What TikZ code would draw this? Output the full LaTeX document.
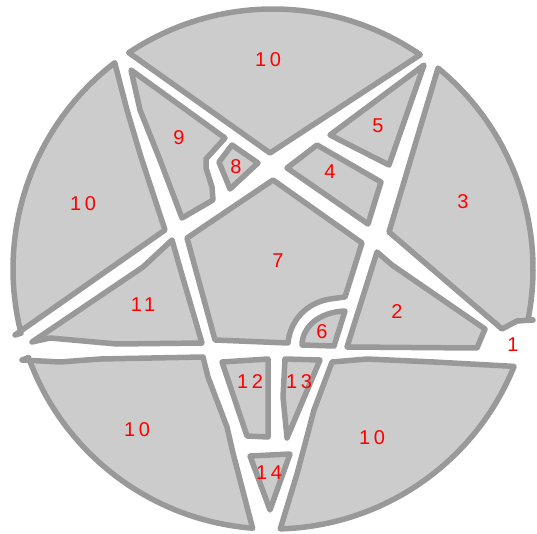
\documentclass[tikz,border=0pt]{standalone}
\usepackage{fontspec}
\newfontfamily\lblfont[LetterSpace=18]{Liberation Sans}
\definecolor{regfill}{HTML}{CCCCCC}
\definecolor{regline}{HTML}{999999}
\begin{document}
\begin{tikzpicture}[x=1pt,y=-1pt,
		region/.style={draw=regline, fill=regfill, line width=5.5pt, line join=round},
		lbl/.style={text=red, font=\lblfont\fontsize{20}{20}\selectfont, inner sep=0pt}]
			\useasboundingbox (0,0) rectangle (537,534);
			\coordinate (C) at (273,269);
			
			% outer pieces
			\draw[region] ([shift={(-123.7:260)}]C) arc[start angle=-123.7, end angle=-55.5, radius=260] -- (270,153) -- cycle;
			\draw[region] ([shift={(-50.6:260)}]C) arc[start angle=-50.6, end angle=11.1, radius=260] -- (533,320) -- (517,321) -- (502,329) -- (389,232) -- cycle;
			\draw[region] (15,335) -- ([shift={(165.7:260)}]C) arc[start angle=165.7, end angle=232.5, radius=260] -- (127,110) -- (141,157) -- (165,230) -- cycle;
			\draw[region] ([shift={(94.5:260)}]C) arc[start angle=94.5, end angle=160.1, radius=260] -- (22,360) -- (60,362) -- (100,359) -- (203,357) -- (208,377) -- (227,427) -- (233,453) -- cycle;
			\draw[region] ([shift={(22:260)}]C) arc[start angle=22, end angle=88.4, radius=260] -- (297,474) -- (314,410) -- (332,362) -- (367,359) -- (434,362) -- cycle;
			
			% inner pieces
			\draw[region] (330,135) -- (424,65) -- (389,165) -- cycle;
			\draw[region] (287,168) -- (317,145) -- (381,182) -- (368,224) -- cycle;
			\draw[region] (232,145) -- (258,163) -- (230,189) -- (219,162) -- cycle;
			\draw[region] (131,70) -- (225,138) -- (206,159) -- (206,168) -- (212,187) -- (213,200) -- (182,218) -- (160,160) -- (140,110) -- cycle;
			\draw[region] (32,342) -- (143,267) -- (172,240) -- (180,268) -- (202,343) -- (117,344) -- (50,338) -- cycle;
			\draw[region] (377,252) -- (392,265) -- (485,329) -- (477,348) -- (347,347) -- cycle;
			\draw[region] (273,180) -- (362,243) -- (345,297) -- (330,299) .. controls (305,303) and (290,322) .. (288,343) -- (215,340) -- (187,238) -- cycle;
			\draw[region] (302,345) -- (334,346) -- (345,311) .. controls (318,312) and (302,328) .. (302,345) -- cycle;
			\draw[region] (222,362) -- (268,359) -- (268,437) -- (247,436) -- cycle;
			\draw[region] (285,359) -- (320,360) -- (287,438) -- (283,397) -- cycle;
			\draw[region] (250,456) -- (290,454) -- (270,510) -- cycle;
			
			% numbers
			\node[lbl] (n10t) at (268,60) {10};
			\node[lbl] (n9) at (179,138) {9};
			\node[lbl] (n8) at (236,167) {8};
			\node[lbl] (n10l) at (83,204) {10};
			\node[lbl] (n5) at (378,126) {5};
			\node[lbl] (n4) at (330,172) {4};
			\node[lbl] (n3) at (463,202) {3};
			\node[lbl] (n7) at (278,261) {7};
			\node[lbl] (n11) at (143,305) {11};
			\node[lbl] (n2) at (397,312) {2};
			\node[lbl] (n6) at (322,332) {6};
			\node[lbl] (n1) at (513,345) {1};
			\node[lbl] (n12) at (250,382) {12};
			\node[lbl] (n13) at (299,382) {13};
			\node[lbl] (n10bl) at (137,430) {10};
			\node[lbl] (n10br) at (372,438) {10};
			\node[lbl] (n14) at (269,473) {14};
		\end{tikzpicture}
\end{document}
